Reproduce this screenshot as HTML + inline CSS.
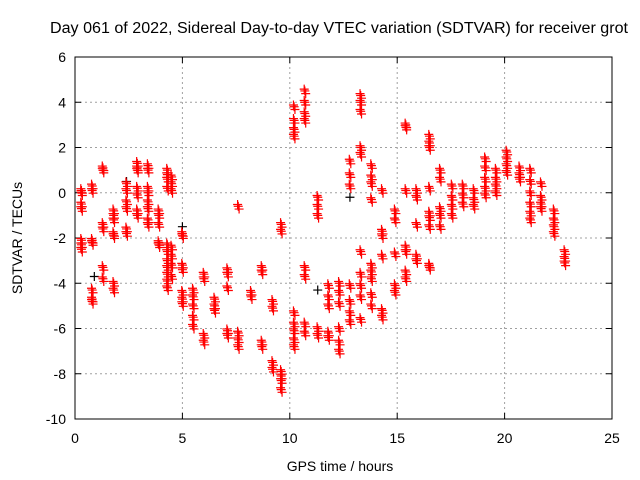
<!DOCTYPE html>
<html><head><meta charset="utf-8"><style>
body{margin:0;background:#fff;}
svg{display:block;font-family:"Liberation Sans",sans-serif;}
</style></head><body>
<svg id="chart" width="640" height="480">
<text x="50" y="33" font-size="15.5" textLength="578" lengthAdjust="spacingAndGlyphs">Day 061 of 2022, Sidereal Day-to-day VTEC variation (SDTVAR) for receiver grot</text>
<g id="grid"></g>
<g id="ticks"></g>
<g id="marks"></g>
<text x="22" y="238" font-size="14" text-anchor="middle" transform="rotate(-90 22 238)">SDTVAR / TECUs</text>
<text x="340" y="471" font-size="14" text-anchor="middle">GPS time / hours</text>
</svg>
<script>
const xTicks=[0,5,10,15,20,25];
const yTicks=[6,4,2,0,-2,-4,-6,-8,-10];
const redHours=[0.3,0.8,1.3,1.8,2.4,2.9,3.4,3.9,4.3,4.5,5.0,5.5,6.0,6.5,7.1,7.6,8.2,8.7,9.2,9.6,10.2,10.7,11.3,11.8,12.3,12.8,13.3,13.8,14.3,14.9,15.4,15.9,16.5,17.0,17.55,18.06,18.57,19.1,19.6,20.1,20.7,21.2,21.7,22.3,22.8];
const redValues=[
[0.1,0.0,-0.5,-0.7,-2.1,-2.3,-2.5],
[0.3,0.1,-2.1,-2.2,-4.3,-4.7,-4.8],
[1.1,1.0,-1.4,-1.6,-3.3,-3.8],
[-0.8,-1.0,-1.2,-1.8,-1.9,-4.0,-4.3],
[0.4,0.1,-0.4,-0.7,-1.6,-1.8],
[1.3,1.1,1.0,0.2,-0.1,-0.8,-1.0],
[1.2,1.0,0.2,0.0,-0.4,-0.7,-1.2,-1.4],
[-0.8,-1.0,-1.4,-2.2,-2.3],
[1.0,0.8,0.6,0.2,-2.3,-2.6,-3.0,-3.3,-3.6,-3.9,-4.2],
[0.7,0.4,0.1,-2.4,-2.8,-3.2,-3.7],
[-1.8,-1.9,-3.2,-3.4,-4.4,-4.7,-4.9],
[-4.3,-4.6,-5.0,-5.5,-5.9],
[-3.6,-3.8,-6.3,-6.6],
[-4.7,-5.0,-5.2],
[-3.4,-3.6,-4.2,-6.1,-6.3],
[-0.6,-6.2,-6.5,-6.8],
[-4.4,-4.6],
[-3.3,-3.5,-6.6,-6.8],
[-4.8,-5.1,-7.5,-7.8],
[-1.4,-1.7,-7.9,-8.1,-8.3,-8.7],
[3.8,3.2,2.8,2.5,-5.3,-5.8,-6.1,-6.5,-6.8],
[4.5,4.0,3.5,3.2,-3.3,-3.7,-5.8,-6.2],
[-0.2,-0.6,-1.0,-6.0,-6.3],
[-4.1,-4.6,-5.0,-6.2,-6.4],
[-4.0,-4.4,-4.9,-6.0,-6.6,-7.0],
[1.4,0.8,0.3,-4.1,-4.8,-5.3,-5.7],
[4.3,4.0,3.6,2.0,1.7,-2.6,-3.6,-4.1,-4.6,-5.6],
[1.2,0.7,0.4,-0.3,-3.2,-3.5,-3.8,-4.5,-5.0],
[0.1,-1.7,-1.9,-2.8,-5.2,-5.5],
[-0.8,-1.2,-2.7,-4.1,-4.4],
[3.0,2.9,0.1,-2.4,-2.6,-3.5,-3.8],
[0.1,-0.2,-1.4,-2.8,-3.0],
[2.5,2.2,2.0,0.2,-0.9,-1.1,-1.5,-3.2,-3.3],
[1.0,0.6,-0.7,-1.0,-1.5],
[0.3,-0.2,-0.6,-1.0],
[0.3,-0.1,-0.5],
[0.1,-0.3,-0.6],
[1.5,1.1,0.6,0.2,-0.1],
[1.0,0.6,0.3,0.0],
[1.8,1.5,1.2,0.9],
[1.1,0.8,0.6],
[1.0,0.5,0.0,-0.5,-0.9,-1.2],
[0.4,-0.2,-0.5,-0.7],
[-0.8,-1.2,-1.5,-1.8],
[-2.6,-2.9,-3.1]
];
const blackHours=[0.9,2.4,11.3,12.8,5.0];
const blackValues=[-3.7,0.5,-4.3,-0.2,-1.5];

const X0=75,X1=612,Y0=57,Y1=419;
const sx=h=>X0+(h-0)/25*(X1-X0);
const sy=v=>Y0+(6-v)/16*(Y1-Y0);
const NS="http://www.w3.org/2000/svg";
const grid=document.getElementById('grid'),ticks=document.getElementById('ticks'),marks=document.getElementById('marks');
function mk(tag,at,parent){const e=document.createElementNS(NS,tag);for(const k in at)e.setAttribute(k,at[k]);parent.appendChild(e);return e;}
xTicks.forEach(t=>{const x=sx(t);
 if(t>0&&t<25){const g=mk('line',{x1:x,x2:x,y1:Y0,y2:Y1,stroke:'#a0a0a0','stroke-dasharray':'2,3'},grid);
 
 }
 mk('line',{x1:x,x2:x,y1:Y1,y2:Y1-6,stroke:'#000'},ticks);
 mk('line',{x1:x,x2:x,y1:Y0,y2:Y0+6,stroke:'#000'},ticks);
 const l=mk('text',{x:x,y:Y1+24,'font-size':14,'text-anchor':'middle'},ticks);l.textContent=t;
 
 
});
yTicks.forEach(t=>{const y=sy(t);
 if(t>-10&&t<6){const g=mk('line',{x1:X0,x2:X1,y1:y,y2:y,stroke:'#a0a0a0','stroke-dasharray':'2,3'},grid);
 
 }
 mk('line',{x1:X0,x2:X0+6,y1:y,y2:y,stroke:'#000'},ticks);
 mk('line',{x1:X1,x2:X1-6,y1:y,y2:y,stroke:'#000'},ticks);
 const l=mk('text',{x:X0-9,y:y+5,'font-size':14,'text-anchor':'end'},ticks);l.textContent=t;
 
 
});
const fr=mk('rect',{x:X0,y:Y0,width:X1-X0,height:Y1-Y0,fill:'none',stroke:'#000'},ticks);


function plus(h,v,col){const x=sx(h),y=sy(v);
 const p=mk('path',{d:`M${x-4.5},${y}h9M${x},${y-4.5}v9`,stroke:col,'stroke-width':1.2,fill:'none'},marks);
 
 }
blackHours.forEach((h,i)=>plus(h,blackValues[i],'#000'));
redHours.forEach((h,i)=>redValues[i].forEach(v=>{plus(h,v,'#f00');plus(h+0.04,v-0.12,'#f00');plus(h-0.03,v+0.08,'#f00');}));
</script>
</body></html>
